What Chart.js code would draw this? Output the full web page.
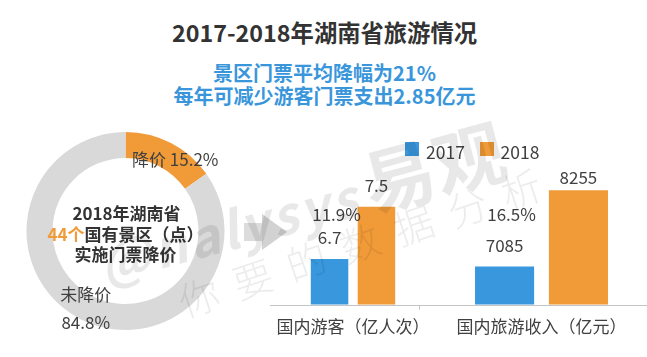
<!DOCTYPE html>
<html><head><meta charset="utf-8">
<script src="https://cdn.jsdelivr.net/npm/chart.js@4.4.1/dist/chart.umd.min.js"></script>
<style>
html,body{margin:0;padding:0;background:#fff;}
body{width:647px;height:357px;position:relative;overflow:hidden;font-family:'Noto Sans CJK SC','Noto Sans',sans-serif;}
.abs{position:absolute;}
#title{left:0;width:649px;top:16.7px;text-align:center;font-size:23.3px;font-weight:bold;color:#333;line-height:30px;white-space:nowrap;}
#sub{left:0;width:649px;top:60.5px;text-align:center;font-size:20px;font-weight:bold;color:#3a96db;line-height:23.4px;white-space:nowrap;}
.sq{width:14px;height:14px;top:142px;}
.lg{top:141.5px;font-size:17.5px;line-height:20px;color:#404040;white-space:nowrap;}
#pieWrap{left:0;top:120px;width:260px;height:230px;}
#bar1Wrap{left:270px;top:130px;width:166px;height:227px;}
#bar2Wrap{left:436px;top:130px;width:211px;height:227px;}
#wm{left:0;top:0;pointer-events:none;}
</style>
</head>
<body>
<div id="title" class="abs"></div>
<div id="sub" class="abs"></div>
<div id="pieWrap" class="abs"><canvas id="pie"></canvas></div>
<svg class="abs" style="left:240px;top:210px" width="50" height="45">
  <rect x="4" y="13" width="20" height="18" fill="#dcdcdc"/>
  <polygon points="22,4 47,22 22,40" fill="#d2d2d2"/>
</svg>
<div id="bar1Wrap" class="abs"><canvas id="bar1"></canvas></div>
<div id="bar2Wrap" class="abs"><canvas id="bar2"></canvas></div>
<div id="legend"></div>
<svg id="wm" class="abs" width="647" height="357">
  <text x="105" y="284" transform="rotate(-15 105 284)" fill="rgba(0,0,0,0.09)" font-family="'Noto Sans CJK SC','Noto Sans',sans-serif" font-weight="bold"><tspan font-size="52" font-style="italic" letter-spacing="3">@nalysys</tspan><tspan font-size="72" dx="8">易观</tspan></text>
  <text x="185" y="318" transform="rotate(-18.5 185 318)" fill="rgba(0,0,0,0.075)" font-family="'Noto Sans CJK SC','Noto Sans',sans-serif" font-size="40" font-weight="300" letter-spacing="16.6">你要的数据分析</text>
</svg>
<script>
// ---- data ----
const titleText = '2017-2018年湖南省旅游情况';
const subtitleLines = ['景区门票平均降幅为21%', '每年可减少游客门票支出2.85亿元'];
const pieLabels = ['降价', '未降价'];
const pieValues = [15.2, 84.8];
const centerLine1 = '2018年湖南省';
const centerLine2Highlight = '44个';
const centerLine2Rest = '国有景区（点）';
const centerLine3 = '实施门票降价';
const years = ['2017', '2018'];
const visitorCategory = ['国内游客（亿人次）'];
const visitors2017 = [6.7];
const visitors2018 = [7.5];
const visitorGrowth = '11.9%';
const incomeCategory = ['国内旅游收入（亿元）'];
const income2017 = [7085];
const income2018 = [8255];
const incomeGrowth = '16.5%';

// ---- style ----
const FONT = "'Noto Sans CJK SC', 'Noto Sans', sans-serif";
const BLUE = '#3997dd', ORANGE = '#f09a38', RING = '#d9d9d9', TXT = '#404040';
const yearColors = [BLUE, ORANGE];

document.getElementById('title').textContent = titleText;
document.getElementById('sub').innerHTML = subtitleLines.join('<br>');

// legend
const legend = document.getElementById('legend');
years.forEach((y, i) => {
  const left = 405 + i * 74.5;
  const sq = document.createElement('div');
  sq.className = 'abs sq'; sq.style.left = left + 'px'; sq.style.background = yearColors[i];
  const t = document.createElement('div');
  t.className = 'abs lg'; t.style.left = (left + 21) + 'px'; t.textContent = y;
  legend.appendChild(sq); legend.appendChild(t);
});

// ---- doughnut ----
const pieLabelPlugin = {
  id: 'pieLabels',
  afterDraw(chart) {
    const ctx = chart.ctx;
    const meta = chart.getDatasetMeta(0);
    ctx.save();
    ctx.textAlign = 'center'; ctx.textBaseline = 'middle';
    ctx.fillStyle = TXT;
    ctx.font = '17px ' + FONT;
    const specs = [
      {lines: [pieLabels[0] + ' ' + pieValues[0] + '%'], dx: 13, dy: 0},
      {lines: [pieLabels[1], pieValues[1] + '%'], dx: -3, dy: 7}
    ];
    meta.data.forEach((arc, i) => {
      const mid = (arc.startAngle + arc.endAngle) / 2;
      const R = 80;
      const cx = arc.x + R * Math.cos(mid) + specs[i].dx;
      const cy = arc.y + R * Math.sin(mid) + specs[i].dy;
      const L = specs[i].lines, gap = 28.3;
      L.forEach((s, k) => ctx.fillText(s, cx, cy + (k - (L.length - 1) / 2) * gap - 0.5));
    });
    // center text
    const a = meta.data[0];
    const x = a.x, y = a.y;
    ctx.fillStyle = '#333';
    ctx.font = 'bold 17px ' + FONT;
    ctx.fillText(centerLine1, x + 1, y - 17.5);
    const w1 = ctx.measureText(centerLine2Highlight).width;
    const w2 = ctx.measureText(centerLine2Rest).width;
    const start = x - (w1 + w2) / 2;
    ctx.textAlign = 'left';
    ctx.fillStyle = ORANGE;
    ctx.fillText(centerLine2Highlight, start, y + 3.5);
    ctx.fillStyle = '#333';
    ctx.fillText(centerLine2Rest, start + w1, y + 3.5);
    ctx.textAlign = 'center';
    ctx.fillText(centerLine3, x, y + 23.5);
    ctx.restore();
  }
};

new Chart(document.getElementById('pie'), {
  type: 'doughnut',
  data: {labels: pieLabels, datasets: [{data: pieValues, backgroundColor: [ORANGE, RING], borderWidth: 0}]},
  options: {
    responsive: true, maintainAspectRatio: false, animation: false,
    cutout: '73.7%',
    layout: {padding: {left: 26.5, top: 12, right: 35.5, bottom: 20}},
    plugins: {legend: {display: false}, tooltip: {enabled: false}},
    events: []
  },
  plugins: [pieLabelPlugin]
});

// ---- bars ----
const barLabelPlugin = {
  id: 'barLabels',
  afterDraw(chart, args, opts) {
    const ctx = chart.ctx;
    const area = chart.chartArea;
    ctx.save();
    const by = Math.round(area.bottom) + 0.5;
    ctx.strokeStyle = '#c4c4c4'; ctx.lineWidth = 1;
    ctx.beginPath(); ctx.moveTo(0, by); ctx.lineTo(chart.width, by); ctx.stroke();
    if (opts.tickRight) {
      const tx = Math.round(area.right) - 0.5;
      ctx.beginPath(); ctx.moveTo(tx, by); ctx.lineTo(tx, by + 4); ctx.stroke();
    }
    ctx.font = '17px ' + FONT;
    ctx.fillStyle = TXT;
    ctx.textAlign = 'center'; ctx.textBaseline = 'middle';
    chart.data.datasets.forEach((ds, di) => {
      const meta = chart.getDatasetMeta(di);
      meta.data.forEach((bar, i) => {
        ctx.fillText(String(ds.data[i]), bar.x, bar.y - opts.offsets[di]);
      });
    });
    if (opts.growth) {
      const b = chart.getDatasetMeta(0).data[0];
      ctx.fillText(opts.growth, b.x + 7, area.top + 73.4);
    }
    ctx.restore();
  }
};

function makeBar(id, cats, d17, d18, yMin, yMax, growth, padLeft, offsets, tickRight) {
  return new Chart(document.getElementById(id), {
    type: 'bar',
    data: {
      labels: cats,
      datasets: [
        {label: years[0], data: d17, backgroundColor: BLUE},
        {label: years[1], data: d18, backgroundColor: ORANGE}
      ]
    },
    options: {
      responsive: true, maintainAspectRatio: false, animation: false,
      categoryPercentage: 0.7, barPercentage: 0.8,
      layout: {padding: {left: padLeft, right: 0, top: 11.6, bottom: 8}},
      scales: {
        x: {
          grid: {display: false, drawTicks: false}, border: {display: false},
          ticks: {color: TXT, font: {size: 17, family: FONT}, padding: 12, maxRotation: 0, autoSkip: false}
        },
        y: {display: false, min: yMin, max: yMax}
      },
      plugins: {legend: {display: false}, tooltip: {enabled: false},
        barLabels: {growth: growth, offsets: offsets, tickRight: tickRight}},
      events: []
    },
    plugins: [barLabelPlugin]
  });
}

makeBar('bar1', visitorCategory, visitors2017, visitors2018, 6, 8.5, visitorGrowth, 5, [21, 21], true);
makeBar('bar2', incomeCategory, income2017, income2018, 6500, 9000, incomeGrowth, 0, [21, 13], false);
</script>
</body></html>
